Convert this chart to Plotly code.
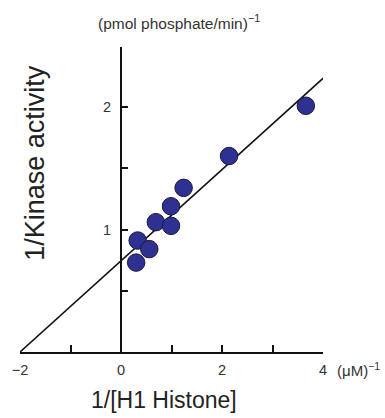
import plotly.graph_objects as go

# data
inv_histone = [0.30, 0.33, 0.56, 0.69, 0.99, 0.99, 1.24, 2.14, 3.66]
inv_activity = [0.73, 0.91, 0.84, 1.06, 1.03, 1.19, 1.34, 1.60, 2.01]
fit_x = [-2.0, 4.07]
fit_y = [0.0, 2.26]
x_tickvals = [-2, -1, 0, 1, 2, 3, 4]
x_ticktext = ["\u22122", "", "0", "", "2", "", "4"]
y_tickvals = [0.5, 1.0, 1.5, 2.0]
y_ticktext = ["", "1", "", "2"]

FONT = "Liberation Sans, Arial, sans-serif"
L, R, T, B = 15, 62, 47, 66
PW = 385 - L - R
PH = 418 - T - B


def px(xp):
    return (xp - L) / PW


def py(yp):
    return (418 - B - yp) / PH


fig = go.Figure()
fig.add_trace(go.Scatter(x=fit_x, y=fit_y, mode="lines",
                         line=dict(color="#111111", width=1.6),
                         cliponaxis=False, hoverinfo="skip"))
fig.add_trace(go.Scatter(x=inv_histone, y=inv_activity, mode="markers",
                         marker=dict(size=17.5, color="#2E3192",
                                     line=dict(color="#1a1a3a", width=1)),
                         cliponaxis=False))

fig.update_layout(
    width=385, height=418,
    margin=dict(l=L, r=R, t=T, b=B),
    paper_bgcolor="white", plot_bgcolor="white",
    showlegend=False,
    font=dict(family=FONT, color="#333333", size=14),
    xaxis=dict(range=[-2, 4], tickvals=x_tickvals, ticktext=x_ticktext,
               ticks="inside", ticklen=7, tickwidth=2, tickcolor="#111111",
               showline=True, linecolor="#111111", linewidth=2,
               ticklabelstandoff=4,
               showgrid=False, zeroline=False, tickfont=dict(size=14.5, color="#333333")),
    yaxis=dict(range=[0, 2.49], tickvals=y_tickvals, ticktext=y_ticktext,
               anchor="free", position=1/3, side="left",
               ticks="inside", ticklen=6, tickwidth=2, tickcolor="#111111",
               showline=True, linecolor="#111111", linewidth=2,
               ticklabelstandoff=6,
               showgrid=False, zeroline=False, tickfont=dict(size=14.5, color="#333333")),
    annotations=[
        dict(text="(pmol phosphate/min)<sup>\u22121</sup>", xref="paper", yref="paper",
             x=px(177), y=py(22), showarrow=False,
             xanchor="center", yanchor="middle", font=dict(size=15.5, color="#333333")),
        dict(text="(\u03bcM)<sup>\u22121</sup>", xref="paper", yref="paper",
             x=px(335), y=py(369), showarrow=False,
             xanchor="left", yanchor="middle", font=dict(size=15, color="#333333")),
        dict(text="1/[H1 Histone]", xref="paper", yref="paper",
             x=px(161), y=py(400), showarrow=False,
             xanchor="center", yanchor="middle", font=dict(size=23, color="#222222")),
        dict(text="1/Kinase activity", xref="paper", yref="paper", textangle=-90,
             x=px(30), y=py(163), showarrow=False,
             xanchor="center", yanchor="middle", font=dict(size=27, color="#222222")),
    ],
)

fig.write_html("out.html")
